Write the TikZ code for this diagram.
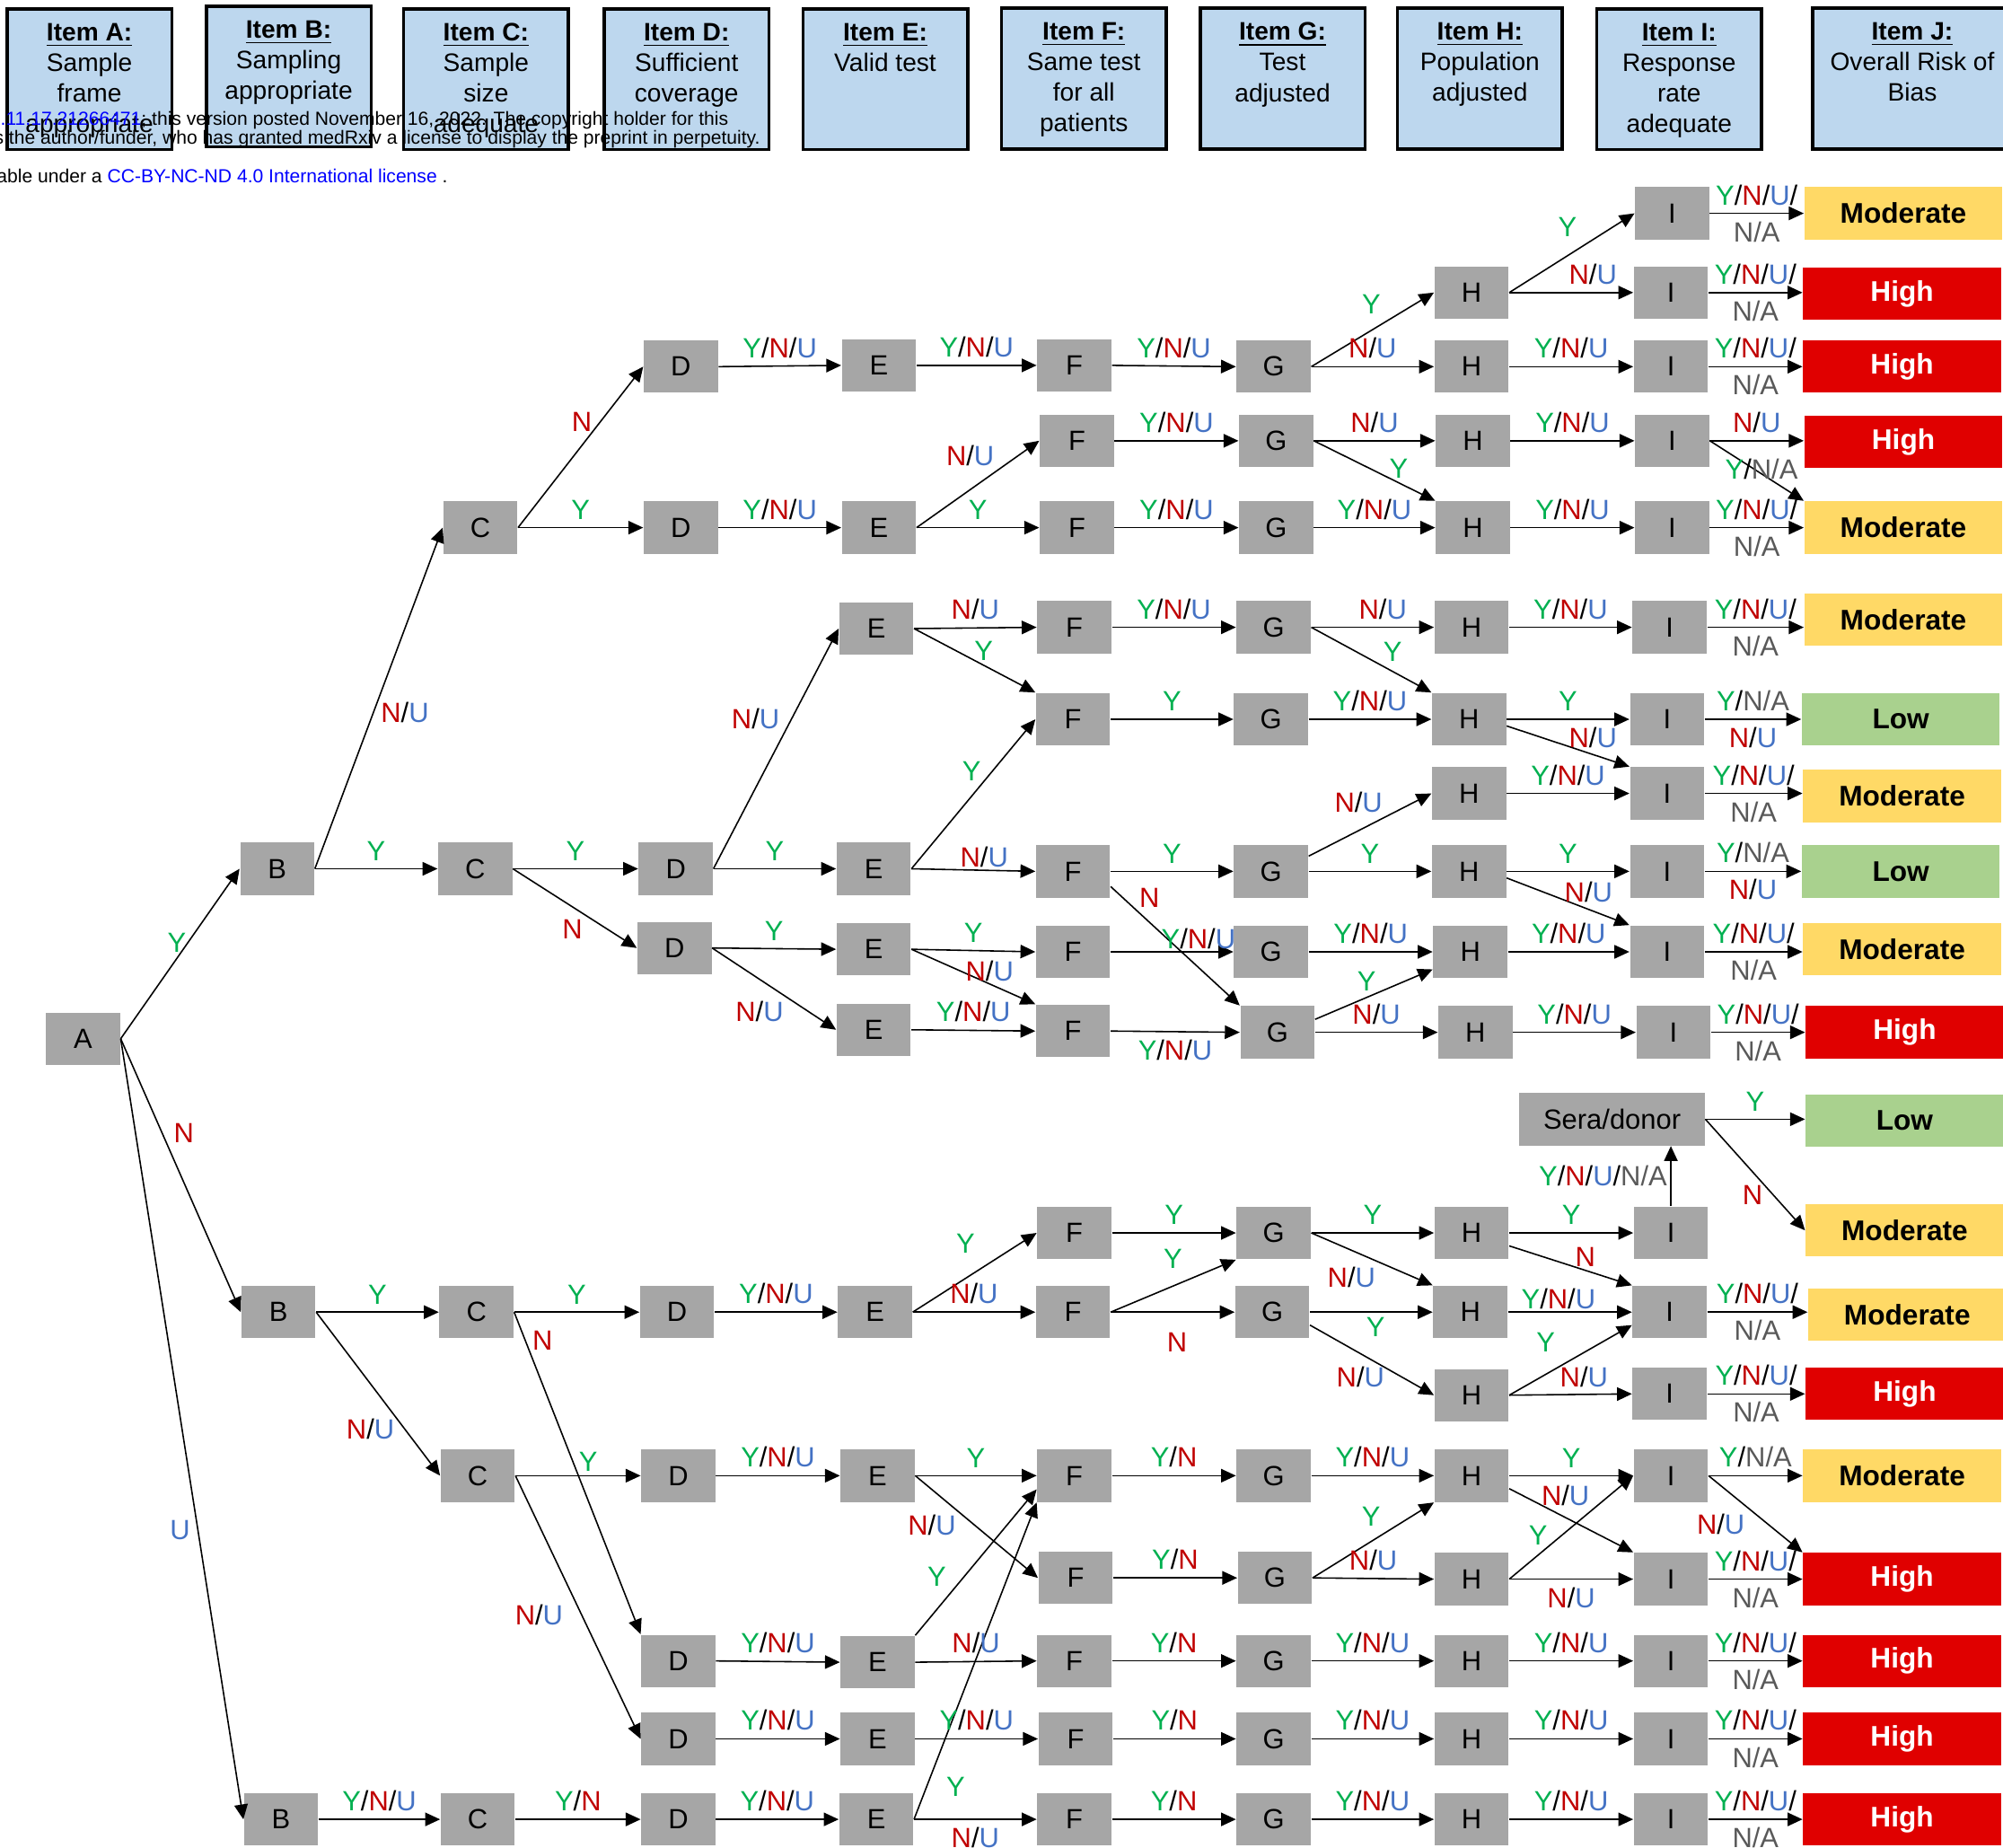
\documentclass[tikz,border=0pt]{standalone}
\usepackage{fontspec}
\setmainfont{Liberation Sans}
\usetikzlibrary{arrows.meta}

\definecolor{boxgray}{HTML}{A6A6A6}
\definecolor{hdrblue}{HTML}{BDD7EE}
\definecolor{resMod}{HTML}{FFD966}
\definecolor{resHigh}{HTML}{E00000}
\definecolor{resLow}{HTML}{A9D18E}
\definecolor{labY}{HTML}{00B050}
\definecolor{labN}{HTML}{C00000}
\definecolor{labU}{HTML}{4472C4}
\definecolor{labNA}{HTML}{595959}
\definecolor{linkblue}{HTML}{0000FF}

\newcommand{\cY}{\textcolor{labY}{Y}}
\newcommand{\cN}{\textcolor{labN}{N}}
\newcommand{\cU}{\textcolor{labU}{U}}
\newcommand{\cNA}{\textcolor{labNA}{N/A}}
\newcommand{\lbYNU}{\cY/\cN/\cU}
\newcommand{\lbNU}{\cN/\cU}
\newcommand{\lbYN}{\cY/\cN}
\newcommand{\lbYNA}{\cY/\cNA}

\begin{document}
\begin{tikzpicture}[x=0.14228mm, y=-0.14228mm,
    box/.style={fill=boxgray, minimum width=8.25mm, minimum height=5.83mm, inner sep=0pt, font=\fontsize{8.8}{10}\selectfont},
    res/.style={minimum width=22.05mm, minimum height=5.83mm, inner sep=0pt, font=\fontsize{9}{10}\selectfont\bfseries},
    rmod/.style={res, fill=resMod},
    rhigh/.style={res, fill=resHigh, text=white},
    rlow/.style={res, fill=resLow},
    hdr/.style={draw, line width=1pt, fill=hdrblue, minimum width=18.35mm, minimum height=15.65mm, inner sep=0pt},
    hdrtxt/.style={align=center, inner sep=0pt, anchor=north, font=\fontsize{8}{9.7}\selectfont},
    arr/.style={-{Triangle[length=1.66mm, width=1.5mm]}, line width=0.45pt},
    lab/.style={inner sep=2.4pt, font=\fontsize{8.8}{10}\selectfont},
    stamp/.style={anchor=base west, inner sep=0pt, font=\fontsize{6}{7}\selectfont}]
\useasboundingbox (0,0) rectangle (1568,1446);

% header
\node[hdr] (hA) at (70,62) {};
\node[hdr] (hB) at (226,60) {};
\node[hdr] (hC) at (380.5,62) {};
\node[hdr] (hD) at (537.5,62) {};
\node[hdr] (hE) at (693,62) {};
\node[hdr] (hF) at (848.5,61.5) {};
\node[hdr] (hG) at (1004,61.5) {};
\node[hdr] (hH) at (1158.5,61.5) {};
\node[hdr] (hI) at (1314.5,62) {};
\node[hdr, minimum width=22.2mm] (hJ) at (1497,61.5) {};
\node[hdrtxt] (tA) at ([yshift=-1.7mm]hA.north) {\underline{\textbf{Item A:}}\\Sample\\frame\\appropriate};
\node[hdrtxt] (tB) at ([yshift=-1.7mm]hB.north) {\underline{\textbf{Item B:}}\\Sampling\\appropriate};
\node[hdrtxt] (tC) at ([yshift=-1.7mm]hC.north) {\underline{\textbf{Item C:}}\\Sample\\size\\adequate};
\node[hdrtxt] (tD) at ([yshift=-1.7mm]hD.north) {\underline{\textbf{Item D:}}\\Sufficient\\coverage};
\node[hdrtxt] (tE) at ([yshift=-1.7mm]hE.north) {\underline{\textbf{Item E:}}\\Valid test};
\node[hdrtxt] (tF) at ([yshift=-1.7mm]hF.north) {\underline{\textbf{Item F:}}\\Same test\\for all\\patients};
\node[hdrtxt] (tG) at ([yshift=-1.7mm]hG.north) {\underline{\textbf{Item G:}}\\Test\\adjusted};
\node[hdrtxt] (tH) at ([yshift=-1.7mm]hH.north) {\underline{\textbf{Item H:}}\\Population\\adjusted};
\node[hdrtxt] (tI) at ([yshift=-1.7mm]hI.north) {\underline{\textbf{Item I:}}\\Response\\rate\\adequate};
\node[hdrtxt] (tJ) at ([yshift=-1.7mm]hJ.north) {\underline{\textbf{Item J:}}\\Overall Risk of\\Bias};

\node[stamp] (s1) at (0,98) {\textcolor{linkblue}{.11.17.21266471}; this version posted November 16, 2022. The copyright holder for this};
\node[stamp] (s2) at (-5,113) {s the author/funder, who has granted medRxiv a license to display the preprint in perpetuity.};
\node[stamp] (s3) at (-3,143) {able under a \textcolor{linkblue}{CC-BY-NC-ND 4.0 International license} .};

% tree
\node[box] (A) at (65,813) {A};
\node[box] (B9) at (217,680) {B};
\node[box] (B13) at (218,1027) {B};
\node[box] (B19) at (220,1424) {B};
\node[box] (C5) at (376,413) {C};
\node[box] (C9) at (372,680) {C};
\node[box] (C13) at (373,1027) {C};
\node[box] (C15) at (374,1155) {C};
\node[box] (C19) at (374,1424) {C};
\node[box] (D3) at (533,287) {D};
\node[box] (D5) at (533,413) {D};
\node[box] (D9) at (529,680) {D};
\node[box] (D10) at (528,742) {D};
\node[box] (D13) at (530,1027) {D};
\node[box] (D15) at (531,1155) {D};
\node[box] (D17) at (531,1300) {D};
\node[box] (D18) at (531,1361) {D};
\node[box] (D19) at (531,1424) {D};
\node[box] (E3) at (688,286) {E};
\node[box] (E5) at (688,413) {E};
\node[box] (E6) at (686,492) {E};
\node[box] (E9) at (684,680) {E};
\node[box] (E10) at (684,743) {E};
\node[box] (E11) at (684,806) {E};
\node[box] (E13) at (685,1027) {E};
\node[box] (E15) at (687,1155) {E};
\node[box] (E17) at (687,1301) {E};
\node[box] (E18) at (687,1361) {E};
\node[box] (E19) at (686,1424) {E};
\node[box] (F3) at (841,286) {F};
\node[box] (F4) at (843,345) {F};
\node[box] (F5) at (843,413) {F};
\node[box] (F6) at (841,491) {F};
\node[box] (F7) at (840,563) {F};
\node[box] (F9) at (840,682) {F};
\node[box] (F10) at (840,745) {F};
\node[box] (F11) at (840,807) {F};
\node[box] (F12) at (841,965) {F};
\node[box] (F13) at (840,1027) {F};
\node[box] (F15) at (841,1155) {F};
\node[box] (F16) at (842,1235) {F};
\node[box] (F17) at (841,1300) {F};
\node[box] (F18) at (842,1361) {F};
\node[box] (F19) at (841,1424) {F};
\node[box] (G3) at (997,287) {G};
\node[box] (G4) at (999,345) {G};
\node[box] (G5) at (999,413) {G};
\node[box] (G6) at (997,491) {G};
\node[box] (G7) at (995,563) {G};
\node[box] (G9) at (995,682) {G};
\node[box] (G10) at (995,745) {G};
\node[box] (G11) at (1000,808) {G};
\node[box] (G12) at (997,965) {G};
\node[box] (G13) at (996,1027) {G};
\node[box] (G15) at (997,1155) {G};
\node[box] (G16) at (998,1235) {G};
\node[box] (G17) at (997,1300) {G};
\node[box] (G18) at (997,1361) {G};
\node[box] (G19) at (997,1424) {G};
\node[box] (H2) at (1152,229) {H};
\node[box] (H3) at (1152,287) {H};
\node[box] (H4) at (1153,345) {H};
\node[box] (H5) at (1153,413) {H};
\node[box] (H6) at (1152,491) {H};
\node[box] (H7) at (1150,563) {H};
\node[box] (H8) at (1150,621) {H};
\node[box] (H9) at (1150,682) {H};
\node[box] (H10) at (1151,745) {H};
\node[box] (H11) at (1155,808) {H};
\node[box] (H12) at (1152,965) {H};
\node[box] (H13) at (1151,1027) {H};
\node[box] (H14) at (1152,1092) {H};
\node[box] (H15) at (1152,1155) {H};
\node[box] (H16) at (1152,1236) {H};
\node[box] (H17) at (1152,1300) {H};
\node[box] (H18) at (1152,1361) {H};
\node[box] (H19) at (1152,1424) {H};
\node[box] (I1) at (1309,167) {I};
\node[box] (I2) at (1308,229) {I};
\node[box] (I3) at (1308,287) {I};
\node[box] (I4) at (1309,345) {I};
\node[box] (I5) at (1309,413) {I};
\node[box] (I6) at (1307,491) {I};
\node[box] (I7) at (1305,563) {I};
\node[box] (I8) at (1305,621) {I};
\node[box] (I9) at (1305,682) {I};
\node[box] (I10) at (1305,745) {I};
\node[box] (I11) at (1310,808) {I};
\node[box] (I12) at (1308,965) {I};
\node[box] (I13) at (1307,1027) {I};
\node[box] (I14) at (1307,1091) {I};
\node[box] (I15) at (1308,1155) {I};
\node[box] (I16) at (1308,1236) {I};
\node[box] (I17) at (1308,1300) {I};
\node[box] (I18) at (1308,1361) {I};
\node[box] (I19) at (1308,1424) {I};
\node[box, minimum width=20.63mm] (S) at (1262,876) {Sera/donor};

\node[rmod] (R1) at (1490,167) {Moderate};
\node[rhigh] (R2) at (1489,230) {High};
\node[rhigh] (R3) at (1489,287) {High};
\node[rhigh] (R4) at (1490,346) {High};
\node[rmod] (R5) at (1490,413) {Moderate};
\node[rmod] (R6) at (1490,485) {Moderate};
\node[rlow] (R7) at (1488,563) {Low};
\node[rmod] (R8) at (1489,623) {Moderate};
\node[rlow] (R9) at (1488,682) {Low};
\node[rmod] (R10) at (1489,743) {Moderate};
\node[rhigh] (R11) at (1491,808) {High};
\node[rlow] (RL) at (1491,877) {Low};
\node[rmod] (RM) at (1491,963) {Moderate};
\node[rmod] (R13) at (1493,1029) {Moderate};
\node[rhigh] (R14) at (1491,1091) {High};
\node[rmod] (R15) at (1489,1155) {Moderate};
\node[rhigh] (R16) at (1489,1236) {High};
\node[rhigh] (R17) at (1489,1300) {High};
\node[rhigh] (R18) at (1489,1361) {High};
\node[rhigh] (R19) at (1489,1424) {High};

% A and B
\draw[arr] (A.east) -- node[lab, shift={(-2.5,-8.5)}] {\cY} (B9.west);
\draw[arr] (A.east) -- node[lab, shift={(2.5,-33)}] {\cN} (B13.west);
\draw[arr] (A.east) -- node[lab, shift={(-1.5,79)}] {\cU} (B19.west);
\draw[arr] (B9.east) -- node[lab, shift={(20.5,11)}] {\lbNU} (C5.west);
\draw[arr] (B9.east) -- node[lab, above] {\cY} (C9.west);
\draw[arr] (B13.east) -- node[lab, above] {\cY} (C13.west);
\draw[arr] (B13.east) -- node[lab, shift={(-6,27.7)}] {\lbNU} (C15.west);
\draw[arr] (B19.east) -- node[lab, above] {\lbYNU} (C19.west);

% upper branch
\draw[arr] (C5.east) -- node[lab, shift={(1,-20)}] {\cN} (D3.west);
\draw[arr] (C5.east) -- node[lab, above] {\cY} (D5.west);
\draw[arr] (D3.east) -- node[lab, above] {\lbYNU} (E3.west);
\draw[arr] (E3.east) -- node[lab, above] {\lbYNU} (F3.west);
\draw[arr] (F3.east) -- node[lab, above] {\lbYNU} (G3.west);
\draw[arr] (G3.east) -- node[lab, shift={(-1,-20)}] {\cY} (H2.west);
\draw[arr] (G3.east) -- node[lab, above] {\lbNU} (H3.west);
\draw[arr] (H2.east) -- node[lab, shift={(-3.5,-20)}] {\cY} (I1.west);
\draw[arr] (H2.east) -- node[lab, shift={(17,-14.6)}] {\lbNU} (I2.west);
\draw[arr] (H3.east) -- node[lab, above] {\lbYNU} (I3.west);
\draw[arr] (D5.east) -- node[lab, above] {\lbYNU} (E5.west);
\draw[arr] (E5.east) -- node[lab, shift={(-6,-22)}] {\lbNU} (F4.west);
\draw[arr] (E5.east) -- node[lab, above] {\cY} (F5.west);
\draw[arr] (F4.east) -- node[lab, above] {\lbYNU} (G4.west);
\draw[arr] (F5.east) -- node[lab, above] {\lbYNU} (G5.west);
\draw[arr] (G4.east) -- node[lab, above] {\lbNU} (H4.west);
\draw[arr] (G4.east) -- node[lab, shift={(19,-1.4)}] {\cY} (H5.north west);
\draw[arr] (G5.east) -- node[lab, above] {\lbYNU} (H5.west);
\draw[arr] (H4.east) -- node[lab, above] {\lbYNU} (I4.west);
\draw[arr] (H5.east) -- node[lab, above] {\lbYNU} (I5.west);

% middle branch
\draw[arr] (C9.east) -- node[lab, above] {\cY} (D9.west);
\draw[arr] (C9.east) -- node[lab, shift={(-2,16)}] {\cN} (D10.west);
\draw[arr] (D9.east) -- node[lab, shift={(-16,-23.7)}] {\lbNU} (E6.west);
\draw[arr] (D9.east) -- node[lab, above] {\cY} (E9.west);
\draw[arr] (E6.east) -- node[lab, above] {\lbNU} (F6.west);
\draw[arr] (E6.east) -- node[lab, shift={(7,-7.6)}] {\cY} (F7.north west);
\draw[arr] (E9.east) -- node[lab, shift={(-1.5,-18.2)}] {\cY} (F7.west);
\draw[arr] (E9.east) -- node[lab, shift={(8.5,-10)}] {\lbNU} (F9.west);
\draw[arr] (F6.east) -- node[lab, above] {\lbYNU} (G6.west);
\draw[arr] (F7.east) -- node[lab, above] {\cY} (G7.west);
\draw[arr] (F9.east) -- node[lab, above] {\cY} (G9.west);
\draw[arr] (F9.-22) -- node[lab, pos=.3, shift={(0,-19)}] {\cN} (G11.north west);
\draw[arr] (G6.east) -- node[lab, shift={(8,-14)}] {\lbNU} (H6.west);
\draw[arr] (G6.east) -- node[lab, shift={(16.7,-6)}] {\cY} (H7.north west);
\draw[arr] (G7.east) -- node[lab, above] {\lbYNU} (H7.west);
\draw[arr] (G9.22) -- node[lab, shift={(-9,-17.7)}] {\lbNU} (H8.west);
\draw[arr] (G9.east) -- node[lab, above] {\cY} (H9.west);
\draw[arr] (H6.east) -- node[lab, above] {\lbYNU} (I6.west);
\draw[arr] (H7.east) -- node[lab, above] {\cY} (I7.west);
\draw[arr] (H7.-10) -- node[lab, shift={(19.5,-7)}] {\lbNU} (I8.north west);
\draw[arr] (H8.east) -- node[lab, above] {\lbYNU} (I8.west);
\draw[arr] (H9.east) -- node[lab, above] {\cY} (I9.west);
\draw[arr] (H9.-10) -- node[lab, shift={(16,-7.6)}] {\lbNU} (I10.north west);
\draw[arr] (D10.east) -- node[lab, above] {\cY} (E10.west);
\draw[arr] (D10.east) -- node[lab, shift={(-11.4,18)}] {\lbNU} (E11.west);
\draw[arr] (E10.east) -- node[lab, above] {\cY} (F10.west);
\draw[arr] (E10.east) -- node[lab, shift={(12.7,-4.5)}] {\lbNU} (F11.north west);
\draw[arr] (E11.east) -- node[lab, above] {\lbYNU} (F11.west);
\draw[arr] (F10.east) -- node[lab, shift={(20.7,-10.5)}] {\lbYNU} (G10.west);
\draw[arr] (F11.east) -- node[lab, below] {\lbYNU} (G11.west);
\draw[arr] (G10.east) -- node[lab, above] {\lbYNU} (H10.west);
\draw[arr] (G11.19) -- node[lab, shift={(-5.7,-10)}] {\cY} (H10.205);
\draw[arr] (G11.east) -- node[lab, above] {\lbNU} (H11.west);
\draw[arr] (H10.east) -- node[lab, above] {\lbYNU} (I10.west);
\draw[arr] (H11.east) -- node[lab, above] {\lbYNU} (I11.west);

% I to overall risk, upper half
\draw[arr] (I1.east) -- node[lab, above] {\lbYNU/} node[lab, below] {\cNA} (I1.east -| R1.west);
\draw[arr] (I2.east) -- node[lab, above] {\lbYNU/} node[lab, below] {\cNA} (I2.east -| R2.west);
\draw[arr] (I3.east) -- node[lab, above] {\lbYNU/} node[lab, below] {\cNA} (I3.east -| R3.west);
\draw[arr] (I4.east) -- node[lab, above] {\lbNU} (I4.east -| R4.west);
\draw[arr] (I4.east) -- node[lab, shift={(3.7,-1.2)}] {\lbYNA} (R5.north west);
\draw[arr] (I5.east) -- node[lab, above] {\lbYNU/} node[lab, below] {\cNA} (I5.east -| R5.west);
\draw[arr] (I6.east) -- node[lab, above] {\lbYNU/} node[lab, below] {\cNA} (I6.east -| R6.west);
\draw[arr] (I7.east) -- node[lab, above] {\lbYNA} node[lab, below] {\lbNU} (I7.east -| R7.west);
\draw[arr] (I8.east) -- node[lab, above] {\lbYNU/} node[lab, below] {\cNA} (I8.east -| R8.west);
\draw[arr] (I9.east) -- node[lab, above] {\lbYNA} node[lab, below] {\lbNU} (I9.east -| R9.west);
\draw[arr] (I10.east) -- node[lab, above] {\lbYNU/} node[lab, below] {\cNA} (I10.east -| R10.west);
\draw[arr] (I11.east) -- node[lab, above] {\lbYNU/} node[lab, below] {\cNA} (I11.east -| R11.west);

% lower branch
\draw[arr] (C13.east) -- node[lab, above] {\cY} (D13.west);
\draw[arr] (C13.east) -- node[lab, pos=.1, shift={(12.3,-2.7)}] {\cN} (D17.north west);
\draw[arr] (D13.east) -- node[lab, above] {\lbYNU} (E13.west);
\draw[arr] (E13.east) -- node[lab, shift={(-7.2,-22.8)}] {\cY} (F12.west);
\draw[arr] (E13.east) -- node[lab, above] {\lbNU} (F13.west);
\draw[arr] (F12.east) -- node[lab, above] {\cY} (G12.west);
\draw[arr] (F13.east) -- node[lab, shift={(-0.3,-21)}] {\cY} (G12.south west);
\draw[arr] (F13.east) -- node[lab, shift={(3.5,23.3)}] {\cN} (G13.west);
\draw[arr] (G12.east) -- node[lab, above] {\cY} (H12.west);
\draw[arr] (G12.east) -- node[lab, shift={(-16,14.2)}] {\lbNU} (H13.north west);
\draw[arr] (G13.east) -- node[lab, shift={(3.3,12)}] {\cY} (H13.west);
\draw[arr] (G13.-19) -- node[lab, shift={(-9,13.5)}] {\lbNU} (H14.west);
\draw[arr] (H12.east) -- node[lab, above] {\cY} (I12.west);
\draw[arr] (H12.-19) -- node[lab, shift={(11.5,-6.7)}] {\cN} (I13.north west);
\draw[arr] (H13.east) -- node[lab, shift={(-9,-10.2)}] {\lbYNU} (I13.west);
\draw[arr] (H14.east) -- node[lab, shift={(-19.5,-13.8)}] {\cY} (I13.199);
\draw[arr] (H14.east) -- node[lab, shift={(10.5,-14)}] {\lbNU} (I14.west);
\draw[arr] (I12.north) -- node[lab, left, inner sep=1pt] {\cY/\cN/\cU/\cNA} (I12.north |- S.south);
\draw[arr] (S.east) -- node[lab, above] {\cY} (S.east -| RL.west);
\draw[arr] (S.east) -- node[lab, shift={(-2,16.2)}] {\cN} (RM.west);
\draw[arr] (I13.east) -- node[lab, above] {\lbYNU/} node[lab, below] {\cNA} (I13.east -| R13.west);
\draw[arr] (I14.east) -- node[lab, above] {\lbYNU/} node[lab, below] {\cNA} (I14.east -| R14.west);

\draw[arr] (C15.east) -- node[lab, shift={(8,-11)}] {\cY} (D15.west);
\draw[arr] (C15.east) -- node[lab, shift={(-30.5,6)}] {\lbNU} (D18.west);
\draw[arr] (C19.east) -- node[lab, above] {\lbYN} (D19.west);
\draw[arr] (D15.east) -- node[lab, above] {\lbYNU} (E15.west);
\draw[arr] (D17.east) -- node[lab, above] {\lbYNU} (E17.west);
\draw[arr] (D18.east) -- node[lab, above] {\lbYNU} (E18.west);
\draw[arr] (D19.east) -- node[lab, above] {\lbYNU} (E19.west);
\draw[arr] (E15.east) -- node[lab, above] {\cY} (F15.west);
\draw[arr] (E15.east) -- node[lab, shift={(-35,-1.5)}] {\lbNU} (F16.west);
\draw[arr] (E17.north east) -- node[lab, shift={(-30.7,11.2)}] {\cY} (F15.200);
\draw[arr] (E19.east) -- node[lab, pos=.1, shift={(23,-1)}] {\cY} (F15.south west);
\draw[arr] (E17.east) -- node[lab, above] {\lbNU} (F17.west);
\draw[arr] (E18.east) -- node[lab, above] {\lbYNU} (F18.west);
\draw[arr] (E19.east) -- node[lab, below] {\lbNU} (F19.west);
\draw[arr] (F15.east) -- node[lab, above] {\lbYN} (G15.west);
\draw[arr] (F16.east) -- node[lab, above] {\lbYN} (G16.west);
\draw[arr] (F17.east) -- node[lab, above] {\lbYN} (G17.west);
\draw[arr] (F18.east) -- node[lab, above] {\lbYN} (G18.west);
\draw[arr] (F19.east) -- node[lab, above] {\lbYN} (G19.west);
\draw[arr] (G15.east) -- node[lab, above] {\lbYNU} (H15.west);
\draw[arr] (G16.east) -- node[lab, shift={(-1.6,-18.6)}] {\cY} (H15.south west);
\draw[arr] (G16.east) -- node[lab, above] {\lbNU} (H16.west);
\draw[arr] (G17.east) -- node[lab, above] {\lbYNU} (H17.west);
\draw[arr] (G18.east) -- node[lab, above] {\lbYNU} (H18.west);
\draw[arr] (G19.east) -- node[lab, above] {\lbYNU} (H19.west);
\draw[arr] (H15.east) -- node[lab, above] {\cY} (I15.west);
\draw[arr] (H15.-19) -- node[lab, shift={(-4.5,-19.8)}] {\lbNU} (I16.north west);
\draw[arr] (H16.east) -- node[lab, shift={(-26,6)}] {\cY} (I15.west);
\draw[arr] (H16.east) -- node[lab, below] {\lbNU} (I16.west);
\draw[arr] (H17.east) -- node[lab, above] {\lbYNU} (I17.west);
\draw[arr] (H18.east) -- node[lab, above] {\lbYNU} (I18.west);
\draw[arr] (H19.east) -- node[lab, above] {\lbYNU} (I19.west);
\draw[arr] (I15.east) -- node[lab, above] {\lbYNA} (I15.east -| R15.west);
\draw[arr] (I15.east) -- node[lab, shift={(-27.2,8.2)}] {\lbNU} (R16.north west);
\draw[arr] (I16.east) -- node[lab, above] {\lbYNU/} node[lab, below] {\cNA} (I16.east -| R16.west);
\draw[arr] (I17.east) -- node[lab, above] {\lbYNU/} node[lab, below] {\cNA} (I17.east -| R17.west);
\draw[arr] (I18.east) -- node[lab, above] {\lbYNU/} node[lab, below] {\cNA} (I18.east -| R18.west);
\draw[arr] (I19.east) -- node[lab, above] {\lbYNU/} node[lab, below] {\cNA} (I19.east -| R19.west);
\end{tikzpicture}
\end{document}
